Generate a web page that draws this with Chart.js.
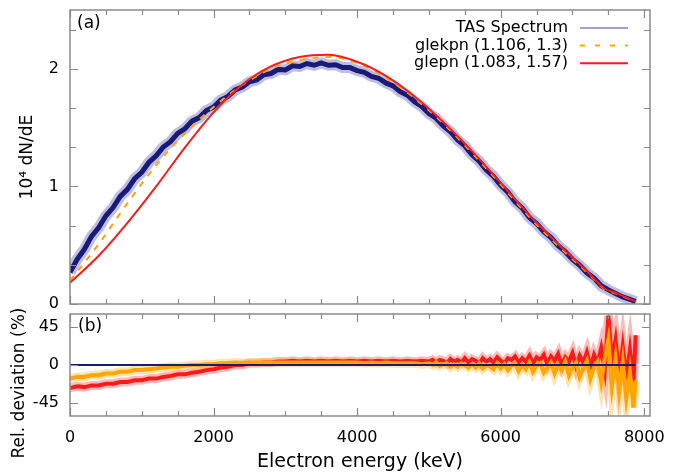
<!DOCTYPE html>
<html>
<head>
<meta charset="utf-8">
<script src="https://cdn.jsdelivr.net/npm/chart.js@4.4.0/dist/chart.umd.min.js"></script>
<style>
  body { margin: 0; background: #fff; }
  #wrap { position: relative; width: 692px; height: 473px; background: #fff; }
  canvas { position: absolute; left: 0; }
</style>
</head>
<body>
<div id="wrap">
  <canvas id="spectrum" width="692" height="312" style="top:0"></canvas>
  <canvas id="deviation" width="692" height="173" style="top:300px"></canvas>
</div>
<script>
// TAS spectrum (10^4 dN/dE), every 100 keV
const tasEnergy = [0,100,200,300,400,500,600,700,800,900,1000,1100,1200,1300,1400,1500,1600,1700,1800,1900,
  2000,2100,2200,2300,2400,2500,2600,2700,2800,2900,3000,3100,3200,3300,3400,3500,3600,3700,3800,3900,
  4000,4100,4200,4300,4400,4500,4600,4700,4800,4900,5000,5100,5200,5300,5400,5500,5600,5700,5800,5900,
  6000,6100,6200,6300,6400,6500,6600,6700,6800,6900,7000,7100,7200,7300,7400,7500,7600,7700,7800,7880];
const tasValues = [0.27,0.38,0.465,0.575,0.65,0.75,0.82,0.915,0.975,1.065,
  1.12,1.205,1.26,1.335,1.38,1.45,1.49,1.555,1.585,1.645,
  1.675,1.735,1.765,1.82,1.845,1.89,1.905,1.95,1.96,1.995,
  1.99,2.025,2.02,2.045,2.03,2.05,2.03,2.035,2.01,2.01,
  1.985,1.97,1.935,1.92,1.88,1.855,1.805,1.775,1.72,1.68,
  1.62,1.58,1.515,1.465,1.395,1.345,1.27,1.215,1.14,1.085,
  1.01,0.95,0.87,0.815,0.735,0.685,0.615,0.565,0.495,0.445,
  0.38,0.33,0.265,0.22,0.155,0.12,0.09,0.06,0.04,0.02];

// fitted curves
const fitEnergy = [0,400,800,1200,1600,2000,2400,2800,3200,3600,4000,4400,4800,5200,5600,6000,6400,6800,7200,7450,7600,7880];
const glekpnValues = [0.2,0.51,0.858,1.18,1.452,1.675,1.862,2.0,2.075,2.10,2.05,1.925,1.75,1.535,1.285,1.015,0.74,0.495,0.27,0.125,0.09,0.02];
const glepnValues = [0.18,0.41,0.69,1.0,1.33,1.63,1.865,2.02,2.10,2.12,2.06,1.94,1.765,1.548,1.30,1.03,0.755,0.51,0.28,0.13,0.095,0.02];

// relative deviation (%), denser where the noise grows
const devEnergy = [0,100,200,300,400,500,600,700,800,900,1000,1100,1200,1300,1400,1500,1600,1700,1800,1900,
  2000,2100,2200,2300,2400,2500,2600,2700,2800,2900,3000,3100,3200,3300,3400,3500,3600,3700,3800,3900,
  4000,4100,4200,4300,4400,4500,4600,4700,4800,4900,
  5000,5050,5100,5150,5200,5250,5300,5350,5400,5450,5500,5550,5600,5650,5700,5750,5800,5850,5900,5950,
  6000,6050,6100,6150,6200,6250,6300,6350,6400,6450,6500,6550,6600,6650,6700,6750,6800,6850,6900,6950,
  7000,7050,7100,7150,7200,7250,7300,7350,7400,7450,7500,7550,7600,7650,7700,7750,7800,7850,7880];
const glekpnDev = [-16,-14,-14,-12,-12,-10,-10,-8,-8,-6,
  -6,-5,-4,-3,-2,-2,-1,0,0,1,
  1,2,2,3,2,3,3,3,3,3,
  3,3,3,3,3,3,3,3,3,3,
  3,2,3,2,3,2,2,2,2,1,
  2,0,3,-1,1,2,-2,1,-2,2,0,-3,1,-3,2,-4,0,-2,-5,2,
  -4,1,-6,-1,2,-7,0,-5,3,-8,-1,2,-9,-3,3,-10,0,-6,4,-12,
  -2,3,-14,-4,5,-16,-2,4,-20,8,30,-25,8,-30,4,-38,-8,-50,-18];
const glepnDev = [-27,-25,-26,-24,-24,-22,-22,-20,-20,-18,
  -18,-16,-16,-14,-13,-11,-11,-9,-8,-6,
  -5,-3,-2,0,0,2,2,3,3,4,
  4,5,4,5,4,5,4,5,4,5,
  4,5,4,5,4,5,4,5,4,5,
  4,6,3,6,5,2,7,4,6,3,8,3,7,5,2,8,4,7,3,9,
  5,2,8,6,10,3,8,4,11,2,9,6,12,1,10,5,13,0,9,4,
  14,-1,11,3,15,-3,12,2,20,-6,58,5,30,-12,22,-15,18,-20,35];
const zeroEnergy = [0, 7880];
const zeroValues = [0, 0];

// ticks
const xMajor = [0, 2000, 4000, 6000, 8000];
const xMinor = [500, 1000, 1500, 2500, 3000, 3500, 4500, 5000, 5500, 6500, 7000, 7500];
const ySpecMajor = [0, 1, 2];
const ySpecMinor = [0.333, 0.667, 1.333, 1.667, 2.333];
const yDevMajor = [-45, 0, 45];

const labels = ['TAS Spectrum', 'glekpn (1.106, 1.3)', 'glepn (1.083, 1.57)'];

Chart.defaults.font.family = '"DejaVu Sans", sans-serif';
Chart.defaults.font.size = 16;
Chart.defaults.color = '#000';

const pts = (xs, ys) => ys.map((v, i) => ({ x: xs[i], y: v }));

// no extra room for half tick labels, the plot box is fixed by layout padding
const noPad = axis => {
  axis.paddingTop = 0; axis.paddingBottom = 0;
  axis.paddingLeft = 0; axis.paddingRight = 0;
};

// inward ticks on all four sides plus grey border, gnuplot style
const frame = {
  id: 'frame',
  afterDraw(chart, args, opts) {
    const { ctx, chartArea: a } = chart;
    const x = chart.scales.x, y = chart.scales.y;
    ctx.save();
    ctx.strokeStyle = '#8a8a8a';
    ctx.lineWidth = 1.2;
    ctx.beginPath();
    const xt = (list, len) => list.forEach(v => {
      const px = Math.round(x.getPixelForValue(v)) + 0.5;
      ctx.moveTo(px, a.bottom); ctx.lineTo(px, a.bottom - len);
      ctx.moveTo(px, a.top); ctx.lineTo(px, a.top + len);
    });
    const yt = (list, len) => list.forEach(v => {
      const py = Math.round(y.getPixelForValue(v)) + 0.5;
      ctx.moveTo(a.left, py); ctx.lineTo(a.left + len, py);
      ctx.moveTo(a.right, py); ctx.lineTo(a.right - len, py);
    });
    xt(xMajor, 8);
    xt(xMinor, 5);
    yt(opts.yMajor || [], 8);
    yt(opts.yMinor || [], 6);
    ctx.stroke();
    ctx.lineWidth = 1.5;
    ctx.strokeRect(a.left, a.top, a.right - a.left, a.bottom - a.top);
    ctx.restore();
  }
};

const specLegend = {
  id: 'specLegend',
  afterDraw(chart) {
    const ctx = chart.ctx;
    ctx.save();
    ctx.font = '17px "DejaVu Sans"';
    ctx.fillStyle = '#000';
    ctx.textBaseline = 'middle';
    ctx.textAlign = 'left';
    ctx.fillText('(a)', 77, 24);
    ctx.font = '16px "DejaVu Sans"';
    ctx.textAlign = 'right';
    const styles = [
      { color: '#a3a3cf', dash: [] },
      { color: '#ffa500', dash: [5, 10] },
      { color: '#ff1a1a', dash: [] }
    ];
    labels.forEach((t, i) => {
      const yy = 28 + i * 17.6;
      ctx.fillText(t, 568, yy);
      ctx.strokeStyle = styles[i].color;
      ctx.setLineDash(styles[i].dash);
      ctx.lineWidth = 2;
      ctx.beginPath();
      ctx.moveTo(580, yy);
      ctx.lineTo(628, yy);
      ctx.stroke();
    });
    ctx.restore();
  }
};

const devLabels = {
  id: 'devLabels',
  afterDraw(chart) {
    const ctx = chart.ctx;
    ctx.save();
    ctx.font = '17px "DejaVu Sans"';
    ctx.fillStyle = '#000';
    ctx.textBaseline = 'middle';
    ctx.textAlign = 'left';
    ctx.fillText('(b)', 78, 27);
    ctx.translate(20, 83);
    ctx.rotate(-Math.PI / 2);
    ctx.textAlign = 'center';
    ctx.fillText('Rel. deviation (%)', 0, 0);
    ctx.restore();
  }
};

const line = (data, color, width, extra) => Object.assign({
  data, borderColor: color, borderWidth: width, pointRadius: 0, fill: false, tension: 0
}, extra || {});

new Chart(document.getElementById('spectrum'), {
  type: 'line',
  data: {
    datasets: [
      line(pts(fitEnergy, glepnValues), '#ff1a1a', 2, { label: labels[2], order: 0, cubicInterpolationMode: 'monotone' }),
      line(pts(fitEnergy, glekpnValues), '#ffa500', 2, { label: labels[1], order: 1, borderDash: [6, 7], cubicInterpolationMode: 'monotone' }),
      line(pts(tasEnergy, tasValues), '#1a1a78', 5, { label: labels[0], order: 2 }),
      line(pts(tasEnergy, tasValues), 'rgba(70,70,165,0.35)', 11, { order: 3 })
    ]
  },
  options: {
    responsive: false,
    animation: false,
    layout: { padding: { left: 0, right: 42, top: 10, bottom: 8 } },
    plugins: { legend: { display: false }, tooltip: { enabled: false }, frame: { yMajor: ySpecMajor, yMinor: ySpecMinor } },
    scales: {
      x: { type: 'linear', min: 0, max: 8080, display: false },
      y: {
        min: 0, max: 2.5,
        afterBuildTicks: axis => { axis.ticks = ySpecMajor.map(v => ({ value: v })); },
        afterFit: axis => { axis.width = 70; noPad(axis); },
        grid: { display: false, drawTicks: false },
        border: { display: false },
        ticks: { padding: 11, font: { size: 16 }, callback: v => String(v) },
        title: { display: true, text: '10⁴ dN/dE', font: { size: 17 }, padding: { top: 17, bottom: 0 } }
      }
    }
  },
  plugins: [frame, specLegend]
});

new Chart(document.getElementById('deviation'), {
  type: 'line',
  data: {
    datasets: [
      line(pts(zeroEnergy, zeroValues), '#1c1c78', 2, { order: 0 }),
      line(pts(devEnergy, glekpnDev), '#ffa500', 4, { order: 1 }),
      line(pts(devEnergy, glepnDev), '#ff1a1a', 4, { order: 2 }),
      line(pts(devEnergy, glekpnDev), 'rgba(255,185,60,0.4)', 9, { order: 3 }),
      line(pts(devEnergy, glepnDev), 'rgba(255,60,60,0.35)', 9, { order: 4 })
    ]
  },
  options: {
    responsive: false,
    animation: false,
    layout: { padding: { left: 0, right: 42, top: 14, bottom: 0 } },
    plugins: { legend: { display: false }, tooltip: { enabled: false }, frame: { yMajor: yDevMajor } },
    scales: {
      x: {
        type: 'linear', min: 0, max: 8080,
        afterBuildTicks: axis => { axis.ticks = xMajor.map(v => ({ value: v })); },
        afterFit: axis => { axis.height = 57; noPad(axis); },
        grid: { display: false, drawTicks: false },
        border: { display: false },
        ticks: { padding: 12, autoSkip: false, maxRotation: 0, font: { size: 16 }, callback: v => String(v) },
        title: { display: true, text: 'Electron energy (keV)', font: { size: 19 }, padding: { top: 0, bottom: 0 } }
      },
      y: {
        min: -60, max: 60,
        afterBuildTicks: axis => { axis.ticks = yDevMajor.map(v => ({ value: v })); },
        afterFit: axis => { axis.width = 70; noPad(axis); },
        grid: { display: false, drawTicks: false },
        border: { display: false },
        ticks: { padding: 11, font: { size: 16 }, callback: v => String(v) }
      }
    }
  },
  plugins: [frame, devLabels]
});
</script>
</body>
</html>
